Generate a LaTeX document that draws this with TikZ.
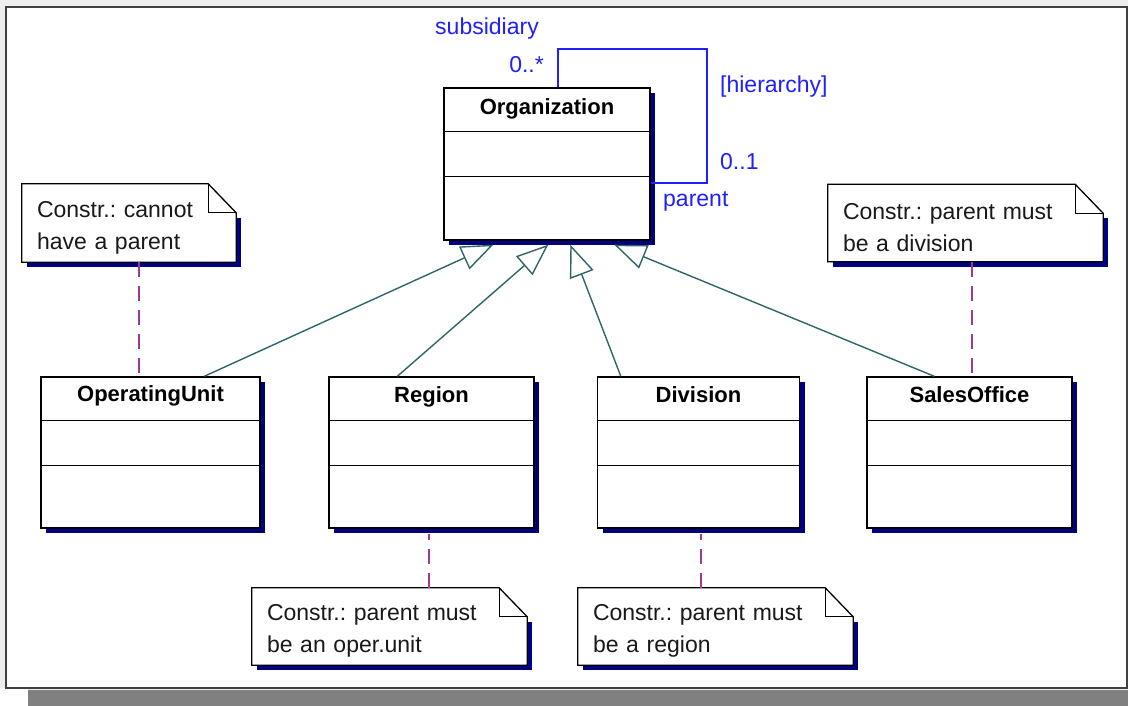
\documentclass[tikz,border=0pt]{standalone}
\usepackage{fontspec}
\setmainfont{Liberation Sans}
\usetikzlibrary{arrows.meta,shadows,calc}
\definecolor{navy}{HTML}{000080}
\definecolor{umlblue}{HTML}{1F1FFF}
\definecolor{gencol}{HTML}{2F6666}
\definecolor{linkcol}{HTML}{9A3A9A}
\definecolor{shadowgray}{HTML}{808080}
\definecolor{bggray}{HTML}{EEEEEE}
\definecolor{framedark}{HTML}{404040}
\pgfdeclarelayer{bottom}
\pgfdeclarelayer{notes}
\pgfsetlayers{bottom,notes,main}
\frenchspacing
\begin{document}
\begin{tikzpicture}[x=1pt,y=-1pt,
  classbox/.style={draw=black, line width=1.4pt, fill=white, inner sep=0pt,
    minimum height=151pt,
    drop shadow={shadow xshift=5pt, shadow yshift=-5pt, fill=navy, opacity=1}},
  compline/.style={draw=black, line width=1.2pt},
  classname/.style={font=\fontsize{22}{26}\selectfont\bfseries, inner sep=0pt, anchor=base, text=black},
  notebox/.style={draw=none, inner xsep=15pt, inner ysep=0pt, align=left,
    minimum height=77pt, font=\fontsize{23}{32}\selectfont, text=black!90},
  noteline/.style={draw=black, line width=1.3pt},
  notelink/.style={draw=linkcol, line width=1.5pt, dash pattern=on 15pt off 9pt},
  gen/.style={draw=gencol, line width=1.4pt, -{Triangle[length=32pt, width=25pt, fill=white]}},
  assoc/.style={draw=umlblue, line width=1.9pt},
  rolelabel/.style={font=\fontsize{23}{26}\selectfont, text=umlblue, inner sep=0pt}
]
\useasboundingbox (0,0) rectangle (1128,706);
\begin{pgfonlayer}{bottom}
  \fill[bggray] (0,0) rectangle (1128,706);
  \fill[white] (0,688) rectangle (28,706);
  \fill[shadowgray] (28,690) rectangle (1128,706);
  \filldraw[fill=white, draw=framedark, line width=1.6pt] (6,7) rectangle (1127,688);
\end{pgfonlayer}

% classes
\node[classbox, minimum width=206pt, minimum height=152pt] (org) at (547,164) {};
\node[classbox, minimum width=219pt] (ou)  at (150.5,452.5) {};
\node[classbox, minimum width=205pt] (reg) at (431.5,452.5) {};
\node[classbox, minimum width=202pt] (div) at (698.5,452.5) {};
\node[classbox, minimum width=205pt] (so)  at (969.5,452.5) {};
\foreach \c in {org,ou,reg,div,so} {
  \draw[compline] ([yshift=-44pt]\c.north west) -- ([yshift=-44pt]\c.north east);
  \draw[compline] ([yshift=-89pt]\c.north west) -- ([yshift=-89pt]\c.north east);
}
\node[classname] (org-t) at ([yshift=-27pt]org.north) {Organization};
\node[classname] (ou-t)  at ([yshift=-25pt]ou.north)  {OperatingUnit};
\node[classname] (reg-t) at ([yshift=-26pt]reg.north) {Region};
\node[classname] (div-t) at ([yshift=-26pt]div.north) {Division};
\node[classname] (so-t)  at ([yshift=-26pt]so.north)  {SalesOffice};

% notes
\node[notebox, minimum width=214pt, text width=184pt, minimum height=78pt] (n1) at (129,223) {\rule{0pt}{25pt}Constr.: cannot\\have a parent};
\node[notebox, minimum width=275pt, text width=245pt] (n4) at (965.5,223) {\rule{0pt}{25pt}Constr.: parent must\\be a division};
\node[notebox, minimum width=275pt, text width=245pt] (n2) at (389.5,626.5) {\rule{0pt}{25pt}Constr.: parent must\\be an oper.unit};
\node[notebox, minimum width=275pt, text width=245pt] (n3) at (715.5,626.5) {\rule{0pt}{25pt}Constr.: parent must\\be a region};
\begin{pgfonlayer}{notes}
\foreach \n in {n1,n2,n3,n4} {
  \fill[navy] ([shift={(5pt,-34pt)}]\n.north east) rectangle ([shift={(5pt,-5pt)}]\n.south west);
  \draw[noteline, fill=white] (\n.north west) -- ([xshift=-28pt]\n.north east)
     -- ([yshift=-29pt]\n.north east) -- (\n.south east) -- (\n.south west) -- cycle;
  \draw[noteline] ([xshift=-28pt]\n.north east) -- ([xshift=-28pt,yshift=-29pt]\n.north east)
     -- ([yshift=-29pt]\n.north east);
}
\end{pgfonlayer}

% note links
\coordinate (l1) at ([xshift=117pt]n1.south west);
\coordinate (l4) at ([xshift=144pt]n4.south west);
\coordinate (l2) at ([xshift=177pt]n2.north west);
\coordinate (l3) at ([xshift=123pt]n3.north west);
\draw[notelink] (l1) -- (l1 |- ou.north);
\draw[notelink] (l4) -- (l4 |- so.north);
\draw[notelink] (l2) -- ([yshift=-5pt]l2 |- reg.south);
\draw[notelink] (l3) -- ([yshift=-5pt]l3 |- div.south);

% generalizations
\draw[gen] ([xshift=164pt]ou.north west)  -- ([xshift=50pt,yshift=-4pt]org.south west);
\draw[gen] ([xshift=69pt]reg.north west)  -- ([xshift=105pt,yshift=-4pt]org.south west);
\draw[gen] ([xshift=24pt]div.north west)  -- ([xshift=127pt,yshift=-4pt]org.south west);
\draw[gen] ([xshift=68pt]so.north west)   -- ([xshift=171pt,yshift=-4pt]org.south west);

% self association
\draw[assoc] ([xshift=115pt]org.north west) -- ++(0,-38) -| ([xshift=56pt,yshift=-96pt]org.north east)
   -- ([yshift=-96pt]org.north east);
\node[rolelabel, anchor=base] (lsub) at (487,35) {subsidiary};
\node[rolelabel, anchor=base east] (lmany) at (544,73) {0..*};
\node[rolelabel, anchor=base west] (lhier) at (720,93) {[hierarchy]};
\node[rolelabel, anchor=base west] (lone) at (720,170) {0..1};
\node[rolelabel, anchor=base west] (lpar) at (663,207) {parent};
\end{tikzpicture}
\end{document}
